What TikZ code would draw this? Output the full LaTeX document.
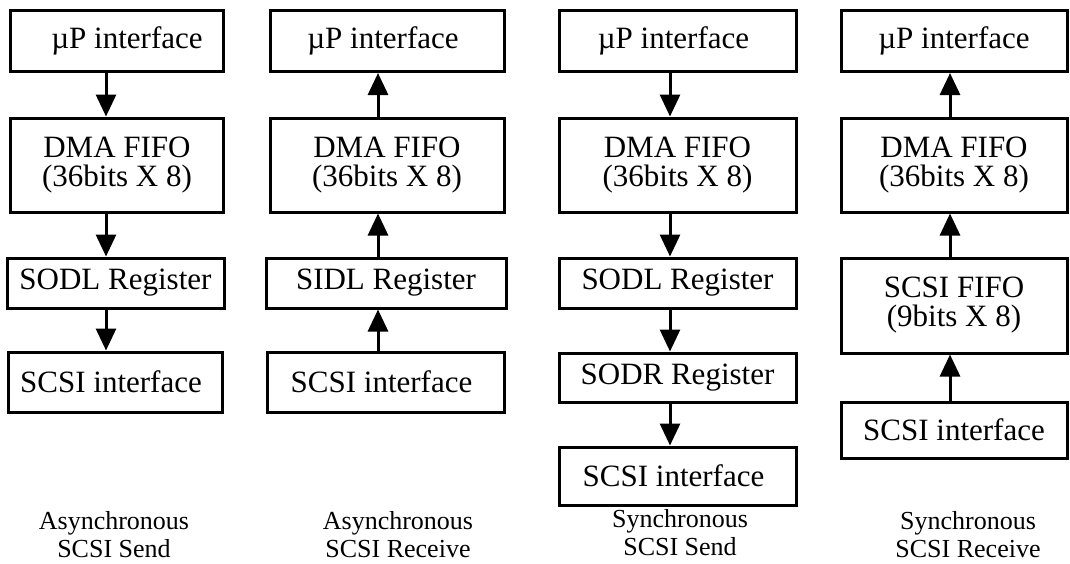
\documentclass[tikz,border=0pt]{standalone}
\usepackage{fontspec}
\setmainfont{Liberation Serif}
\usetikzlibrary{arrows.meta}
\begin{document}
\begin{tikzpicture}[x=0.5pt,y=-0.5pt,
  blk/.style={draw, line width=1.5pt, inner sep=0pt, align=center, font=\fontsize{15.5}{14.5}\selectfont},
  flow/.style={line width=1.5pt, -{Triangle[length=11pt,width=10pt]}},
  captxt/.style={align=center, inner sep=0pt, font=\fontsize{13}{14}\selectfont}]
\useasboundingbox (0,0) rectangle (1070,563);
% column 1
\node[blk, minimum width=106.5pt, minimum height=30.5pt] (u1) at (117,41) {\hspace*{10pt}µP interface};
\node[blk, minimum width=106.5pt, minimum height=47pt] (d1) at (117,165) {DMA FIFO\\(36bits X 8)};
\node[blk, minimum width=108.5pt, minimum height=25pt] (s1) at (115.5,283) {SODL Register};
\node[blk, minimum width=107pt, minimum height=30pt] (i1) at (115,382) {SCSI interface\hspace*{4pt}};
\node[captxt] (k1) at (114,535) {Asynchronous\\SCSI Send};
\coordinate (a1) at (106,0);
\draw[flow] (u1.south -| a1) -- (d1.north -| a1);
\draw[flow] (d1.south -| a1) -- (s1.north -| a1);
\draw[flow] (s1.south -| a1) -- (i1.north -| a1);
% column 2
\node[blk, minimum width=117pt, minimum height=30.5pt] (u2) at (387,41) {µP interface\hspace*{4pt}};
\node[blk, minimum width=117pt, minimum height=47pt] (d2) at (387,165) {DMA FIFO\\(36bits X 8)};
\node[blk, minimum width=120pt, minimum height=25pt] (s2) at (386,283) {SIDL Register};
\node[blk, minimum width=118.5pt, minimum height=30pt] (i2) at (385.5,382) {SCSI interface\hspace*{4pt}};
\node[captxt] (k2) at (398,535) {Asynchronous\\SCSI Receive};
\coordinate (a2) at (378,0);
\draw[flow] (d2.north -| a2) -- (u2.south -| a2);
\draw[flow] (s2.north -| a2) -- (d2.south -| a2);
\draw[flow] (i2.north -| a2) -- (s2.south -| a2);
% column 3
\node[blk, minimum width=118.5pt, minimum height=30.5pt] (u3) at (677.5,41) {µP interface\hspace*{4pt}};
\node[blk, minimum width=118.5pt, minimum height=47pt] (d3) at (677.5,165) {DMA FIFO\\(36bits X 8)};
\node[blk, minimum width=118.5pt, minimum height=25pt] (s3) at (677.5,283) {SODL Register};
\node[blk, minimum width=118.5pt, minimum height=24.5pt] (r3) at (677.5,377.5) {SODR Register};
\node[blk, minimum width=118.5pt, minimum height=29pt] (i3) at (677.5,476) {SCSI interface\hspace*{4pt}};
\node[captxt] (k3) at (680,533) {Synchronous\\SCSI Send};
\coordinate (a3) at (670,0);
\draw[flow] (u3.south -| a3) -- (d3.north -| a3);
\draw[flow] (d3.south -| a3) -- (s3.north -| a3);
\draw[flow] (s3.south -| a3) -- (r3.north -| a3);
\draw[flow] (r3.south -| a3) -- (i3.north -| a3);
% column 4
\node[blk, minimum width=113pt, minimum height=30.5pt] (u4) at (954,41) {µP interface};
\node[blk, minimum width=113pt, minimum height=47pt] (d4) at (954,165) {DMA FIFO\\(36bits X 8)};
\node[blk, minimum width=113pt, minimum height=47.5pt] (f4) at (954,305.5) {SCSI FIFO\\(9bits X 8)};
\node[blk, minimum width=113pt, minimum height=28pt] (i4) at (954,430) {SCSI interface};
\node[captxt] (k4) at (968,535) {Synchronous\\SCSI Receive};
\coordinate (a4) at (950,0);
\draw[flow] (d4.north -| a4) -- (u4.south -| a4);
\draw[flow] (f4.north -| a4) -- (d4.south -| a4);
\draw[flow] (i4.north -| a4) -- (f4.south -| a4);
\end{tikzpicture}
\end{document}
